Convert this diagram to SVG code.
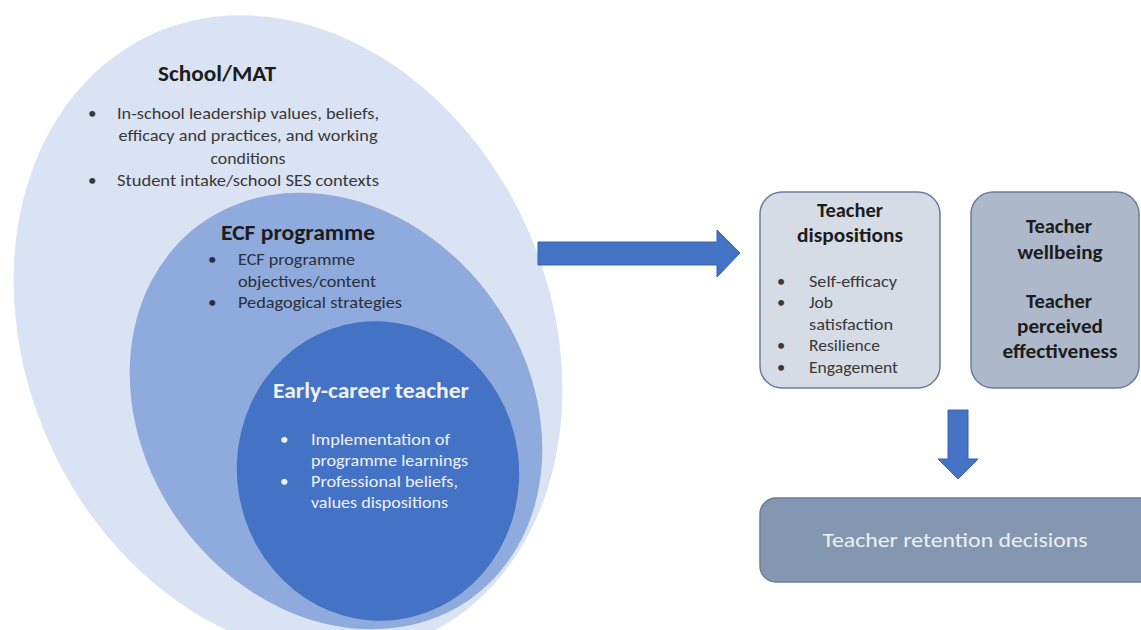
<svg xmlns="http://www.w3.org/2000/svg" width="1141" height="630" viewBox="0 0 1141 630">
  <defs>
    <style>
      text { font-family: Carlito, Lato, "Liberation Sans", sans-serif; }
      .head { font-weight: 700; fill: #1c1c1c; }
      .body { font-size: 17px; fill: #383838; }
      .sm { font-size: 16.5px; }
      .light { fill: #eef1f8; }
      .box { stroke: #6a7d99; stroke-width: 1.5; }
      .arrow { fill: #4472c4; stroke: #3a62a8; stroke-width: 1; }
    </style>
  </defs>
  <rect width="1141" height="630" fill="#ffffff"/>

  <!-- nested context ellipses -->
  <g id="school-mat">
    <ellipse cx="288" cy="335" rx="262" ry="330" transform="rotate(-24 288 335)" fill="#dae3f3"/>
    <text class="head" x="217" y="81" font-size="22" text-anchor="middle" textLength="118" lengthAdjust="spacingAndGlyphs">School/MAT</text>
    <g class="body">
      <text x="88" y="119">•</text>
      <text x="248" y="119" text-anchor="middle" textLength="262" lengthAdjust="spacingAndGlyphs">In-school leadership values, beliefs,</text>
      <text x="248" y="141" text-anchor="middle" textLength="259" lengthAdjust="spacingAndGlyphs">efficacy and practices, and working</text>
      <text x="248" y="164" text-anchor="middle" textLength="75" lengthAdjust="spacingAndGlyphs">conditions</text>
      <text x="88" y="186">•</text>
      <text x="248" y="186" text-anchor="middle" textLength="262" lengthAdjust="spacingAndGlyphs">Student intake/school SES contexts</text>
    </g>
  </g>

  <g id="ecf-programme">
    <ellipse cx="336" cy="411" rx="192" ry="231" transform="rotate(-36 336 411)" fill="#8faadc"/>
    <text class="head" x="298" y="240" font-size="22" text-anchor="middle" textLength="154" lengthAdjust="spacingAndGlyphs">ECF programme</text>
    <g class="body" style="fill:#2a2f3a">
      <text x="208" y="265">•</text>
      <text x="238" y="265" textLength="117" lengthAdjust="spacingAndGlyphs">ECF programme</text>
      <text x="238" y="287" textLength="138" lengthAdjust="spacingAndGlyphs">objectives/content</text>
      <text x="208" y="308">•</text>
      <text x="238" y="308" textLength="164" lengthAdjust="spacingAndGlyphs">Pedagogical strategies</text>
    </g>
  </g>

  <g id="early-career-teacher">
    <ellipse cx="378" cy="471" rx="141" ry="150" transform="rotate(-8 378 471)" fill="#4472c4"/>
    <text class="head light" x="371" y="398" font-size="22" text-anchor="middle" textLength="196" lengthAdjust="spacingAndGlyphs">Early-career teacher</text>
    <g class="body light">
      <text x="280" y="445">•</text>
      <text x="311" y="445" textLength="139" lengthAdjust="spacingAndGlyphs">Implementation of</text>
      <text x="311" y="466" textLength="157" lengthAdjust="spacingAndGlyphs">programme learnings</text>
      <text x="280" y="487">•</text>
      <text x="311" y="487" textLength="147" lengthAdjust="spacingAndGlyphs">Professional beliefs,</text>
      <text x="311" y="508" textLength="137" lengthAdjust="spacingAndGlyphs">values dispositions</text>
    </g>
  </g>

  <!-- outcome boxes -->
  <g id="teacher-dispositions">
    <rect class="box" x="760" y="192" width="180" height="196" rx="22" fill="#d6dce5"/>
    <text class="head" x="850" y="217" font-size="19.5" text-anchor="middle" textLength="66" lengthAdjust="spacingAndGlyphs">Teacher</text>
    <text class="head" x="850" y="242" font-size="19.5" text-anchor="middle" textLength="106" lengthAdjust="spacingAndGlyphs">dispositions</text>
    <g class="body sm">
      <text x="777" y="287">•</text>
      <text x="809" y="287" textLength="88" lengthAdjust="spacingAndGlyphs">Self-efficacy</text>
      <text x="777" y="308">•</text>
      <text x="809" y="308" textLength="24" lengthAdjust="spacingAndGlyphs">Job</text>
      <text x="809" y="330" textLength="84" lengthAdjust="spacingAndGlyphs">satisfaction</text>
      <text x="777" y="351">•</text>
      <text x="809" y="351" textLength="71" lengthAdjust="spacingAndGlyphs">Resilience</text>
      <text x="777" y="373">•</text>
      <text x="809" y="373" textLength="89" lengthAdjust="spacingAndGlyphs">Engagement</text>
    </g>
  </g>

  <g id="teacher-wellbeing">
    <rect class="box" x="971" y="192" width="168" height="196" rx="22" fill="#adb9ca"/>
    <g class="head" font-size="19.5" text-anchor="middle">
      <text x="1059" y="233" textLength="66" lengthAdjust="spacingAndGlyphs">Teacher</text>
      <text x="1060" y="259" textLength="85" lengthAdjust="spacingAndGlyphs">wellbeing</text>
      <text x="1059" y="308" textLength="66" lengthAdjust="spacingAndGlyphs">Teacher</text>
      <text x="1060" y="333" textLength="86" lengthAdjust="spacingAndGlyphs">perceived</text>
      <text x="1060" y="358" textLength="115" lengthAdjust="spacingAndGlyphs">effectiveness</text>
    </g>
  </g>

  <g id="teacher-retention">
    <rect class="box" x="760" y="498" width="400" height="84" rx="16" fill="#8497b0"/>
    <text x="955" y="547" font-size="20" fill="#eef0f4" text-anchor="middle" textLength="265" lengthAdjust="spacingAndGlyphs">Teacher retention decisions</text>
  </g>

  <!-- block arrows -->
  <g id="connectors">
    <polygon class="arrow" points="538,242 717,242 717,230 740,253 717,277 717,265 538,265"/>
    <polygon class="arrow" points="948,410 968,410 968,459 978,459 958,479 938,459 948,459"/>
  </g>
</svg>
